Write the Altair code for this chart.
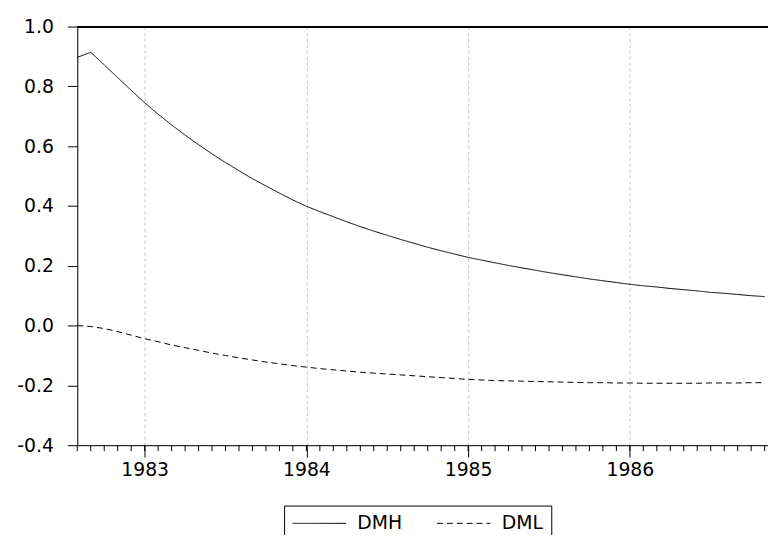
import altair as alt
import pandas as pd

# months since 1982-08 (0 = 1982M08 ... 51 = 1986M11)
months = list(range(52))

dmh = [0.897, 0.914, 0.872, 0.829, 0.787,
       0.745, 0.707, 0.671, 0.637, 0.605, 0.574, 0.545, 0.518, 0.491, 0.467, 0.443, 0.420,
       0.399, 0.381, 0.364, 0.347, 0.331, 0.316, 0.302, 0.288, 0.275, 0.262, 0.250, 0.239,
       0.228, 0.219, 0.210, 0.201, 0.193, 0.185, 0.177, 0.170, 0.163, 0.156, 0.150, 0.144,
       0.138, 0.133, 0.129, 0.124, 0.120, 0.116, 0.111, 0.108, 0.104, 0.100, 0.097]

dml = [0.000, -0.003, -0.010, -0.020, -0.032,
       -0.044, -0.054, -0.065, -0.074, -0.083, -0.092, -0.100, -0.108, -0.115, -0.122, -0.128, -0.134,
       -0.139, -0.144, -0.148, -0.152, -0.156, -0.159, -0.162, -0.165, -0.168, -0.171, -0.174, -0.177,
       -0.180, -0.182, -0.184, -0.185, -0.186, -0.187, -0.188, -0.189, -0.190, -0.191, -0.191, -0.192,
       -0.192, -0.193, -0.193, -0.193, -0.193, -0.193, -0.192, -0.192, -0.192, -0.191, -0.191]

series_names = ["DMH", "DML"]
year_ticks = [5, 17, 29, 41]          # January of 1983..1986
y_ticks = [-0.4, -0.2, 0.0, 0.2, 0.4, 0.6, 0.8, 1.0]

FONT = "DejaVu Sans"
FS = 19
W, H = 698, 423

df = pd.DataFrame({
    "t": months * 2,
    "value": dmh + dml,
    "series": [series_names[0]] * len(months) + [series_names[1]] * len(months),
})
minor = pd.DataFrame({"t": months})

xscale = alt.Scale(domain=[0, 51.25], nice=False, zero=False)
yscale = alt.Scale(domain=[-0.4, 1.0], nice=False, zero=False)

lines = alt.Chart(df).mark_line(color="black", strokeWidth=1).encode(
    x=alt.X("t:Q", scale=xscale,
            axis=alt.Axis(values=year_ticks, title=None, grid=True, gridColor="#c4c4c4",
                          gridDash=[3, 3], gridWidth=1, tickSize=12, tickColor="black",
                          domainColor="black", labelFont=FONT, labelFontSize=FS,
                          labelColor="black", labelPadding=4,
                          labelExpr="toString(1983 + (datum.value - 5) / 12)")),
    y=alt.Y("value:Q", scale=yscale,
            axis=alt.Axis(values=y_ticks, title=None, grid=False, tickSize=10,
                          tickColor="black", domainColor="black", labelFont=FONT,
                          labelFontSize=FS, labelColor="black", labelPadding=14,
                          labelExpr="(datum.value < -0.001 ? '-' : '') + format(abs(datum.value), '.1f')")),
    strokeDash=alt.StrokeDash("series:N",
                              scale=alt.Scale(domain=series_names, range=[[1, 0], [6, 4]]),
                              legend=alt.Legend(title=None, orient="none", legendX=209, legendY=484,
                                                direction="horizontal", symbolType="stroke",
                                                symbolSize=2916, symbolStrokeWidth=1,
                                                symbolStrokeColor="black", labelFont=FONT,
                                                labelFontSize=FS, labelColor="black",
                                                labelOffset=11, columnPadding=34,
                                                clipHeight=20,
                                                strokeColor="black", padding=8,
                                                fillColor="white")),
)

minor_ticks = alt.Chart(minor).mark_rule(color="black", strokeWidth=1).encode(
    x=alt.X("t:Q", scale=xscale),
    y=alt.value(H),
    y2=alt.value(H + 6),
)

top_border = alt.Chart(minor).mark_rule(color="black", strokeWidth=1).encode(
    x=alt.value(0), x2=alt.value(W), y=alt.value(0)
)

chart = alt.layer(minor_ticks, top_border, lines).properties(
    width=W, height=H,
    autosize=alt.AutoSizeParams(type="none"),
    padding={"left": 70, "top": 16, "right": 0, "bottom": 88},
).configure_view(stroke=None).configure(background="white")

chart.save("out.html", embed_options={"renderer": "svg", "actions": False})
